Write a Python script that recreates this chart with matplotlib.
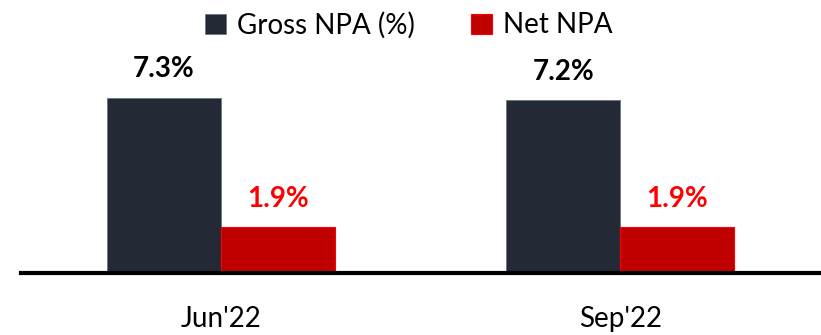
import matplotlib.pyplot as plt
import numpy as np

plt.rcParams["font.family"] = ["Lato", "DejaVu Sans"]

quarters = ["Jun'22", "Sep'22"]
gross_npa = [7.3, 7.2]
net_npa = [1.9, 1.9]

gross_color = "#232a35"
net_color = "#c00000"

fig = plt.figure(figsize=(8.21, 3.35), dpi=100)
ax = fig.add_axes([21 / 821, 62 / 335, 799 / 821, 233 / 335])

x = np.arange(len(quarters))
w = 0.285
b1 = ax.bar(x - w / 2, gross_npa, w, color=gross_color, edgecolor="#6b7480",
            linewidth=0.6, label="Gross NPA (%)")
b2 = ax.bar(x + w / 2, net_npa, w, color=net_color, edgecolor="#ff0000",
            linewidth=0.8, label="Net NPA")

for rect, v in zip(b1, gross_npa):
    ax.annotate(f"{v:.1f}%", (rect.get_x() + rect.get_width() / 2, v),
                xytext=(0, 11), textcoords="offset points", ha="center", va="bottom",
                fontsize=20, fontweight="bold", color="black")
for rect, v in zip(b2, net_npa):
    ax.annotate(f"{v:.1f}%", (rect.get_x() + rect.get_width() / 2, v),
                xytext=(0, 11), textcoords="offset points", ha="center", va="bottom",
                fontsize=20, fontweight="bold", color="#ff0000")

ax.set_xlim(-0.5, 1.5)
ax.set_ylim(0, 9.7)
ax.set_xticks(x)
ax.set_xticklabels(quarters, fontsize=20)
ax.tick_params(axis="x", length=0, pad=24)
ax.set_yticks([])
for s in ["top", "right", "left"]:
    ax.spines[s].set_visible(False)
ax.spines["bottom"].set_linewidth(3)
ax.spines["bottom"].set_color("black")

fig.legend(handles=[b1, b2], loc="upper center", bbox_to_anchor=(0.498, 1.04),
           ncol=2, frameon=False, fontsize=20, handlelength=0.75, handleheight=0.75,
           handletextpad=0.4, columnspacing=2.0)

fig.savefig("out.png", dpi=100)
